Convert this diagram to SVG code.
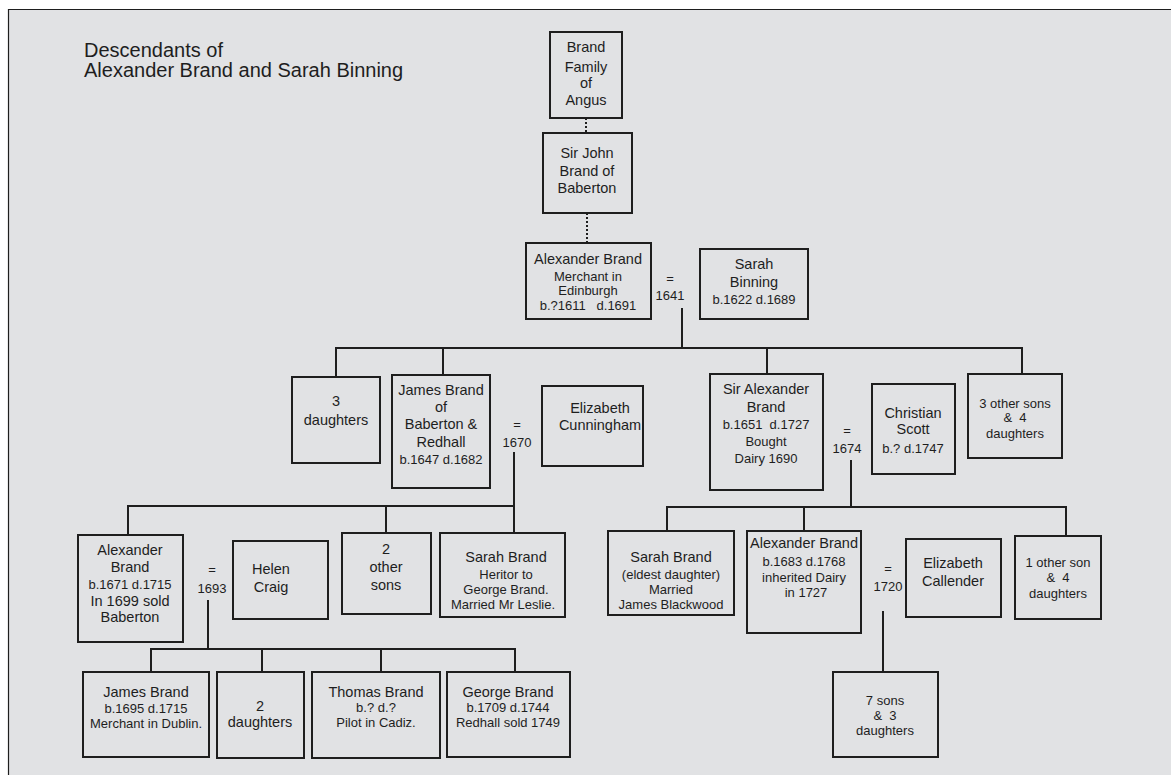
<svg xmlns="http://www.w3.org/2000/svg" width="1171" height="775" viewBox="0 0 1171 775">
<style>
.box{fill:none;stroke:#1e1e1e;stroke-width:2}
.ln{fill:none;stroke:#1e1e1e;stroke-width:2}
.dot{fill:none;stroke:#1e1e1e;stroke-width:2;stroke-dasharray:2 2}
text{font-family:"Liberation Sans",Arial,sans-serif;fill:#1e1e1e;text-anchor:middle}
.a{font-size:14.5px}
.b{font-size:13px}
.t{font-size:20px;text-anchor:start}
</style>
<rect x="0" y="0" width="1171" height="775" fill="#ffffff"/>
<rect x="8" y="9" width="1163" height="766" fill="#e1e2e4"/>
<path d="M8.5 775 V9.5 H1171" fill="none" stroke="#1e1e1e" stroke-width="1.2"/>
<g id="title">
<text class="t" x="84" y="57">Descendants of</text>
<text class="t" x="84" y="77">Alexander Brand and Sarah Binning</text>
</g>
<g id="connectors">
<path class="dot" d="M586 118 V133"/>
<path class="dot" d="M587 213 V243"/>
<path class="ln" d="M682 308 V348"/>
<path class="ln" d="M336 377 V348 H1022 V374"/>
<path class="ln" d="M443 348 V375"/>
<path class="ln" d="M767 348 V374"/>
<path class="ln" d="M514 452 V533"/>
<path class="ln" d="M128 535 V506 H514"/>
<path class="ln" d="M386 506 V533"/>
<path class="ln" d="M851 460 V507"/>
<path class="ln" d="M667 531 V507 H1066 V536"/>
<path class="ln" d="M804 507 V531"/>
<path class="ln" d="M883 611 V672"/>
<path class="ln" d="M208 600 V649"/>
<path class="ln" d="M151 672 V649 H515 V672"/>
<path class="ln" d="M262 649 V672"/>
<path class="ln" d="M381 649 V672"/>
</g>
<g id="brand-family-angus">
<rect class="box" x="550" y="32" width="72" height="86"/>
<text class="a" x="586" y="52">Brand</text>
<text class="a" x="586" y="72">Family</text>
<text class="a" x="586" y="88">of</text>
<text class="a" x="586" y="105">Angus</text>
</g>
<g id="sir-john-brand">
<rect class="box" x="543" y="133" width="89" height="80"/>
<text class="a" x="587" y="158">Sir John</text>
<text class="a" x="587" y="176">Brand of</text>
<text class="a" x="587" y="193">Baberton</text>
</g>
<g id="alexander-brand-1611">
<rect class="box" x="526" y="243" width="125" height="76"/>
<text class="a" x="588" y="264">Alexander Brand</text>
<text class="b" x="588" y="281">Merchant in</text>
<text class="b" x="588" y="295">Edinburgh</text>
<text class="b" x="588" y="310" xml:space="preserve">b.?1611   d.1691</text>
</g>
<g id="marriage-1641">
<text class="b" x="670" y="283">=</text>
<text class="b" x="670" y="300">1641</text>
</g>
<g id="sarah-binning">
<rect class="box" x="700" y="249" width="108" height="70"/>
<text class="a" x="754" y="269">Sarah</text>
<text class="a" x="754" y="287">Binning</text>
<text class="b" x="754" y="304">b.1622 d.1689</text>
</g>
<g id="three-daughters">
<rect class="box" x="292" y="377" width="88" height="86"/>
<text class="a" x="336" y="406">3</text>
<text class="a" x="336" y="425">daughters</text>
</g>
<g id="james-brand-1647">
<rect class="box" x="392" y="375" width="98" height="113"/>
<text class="a" x="441" y="395">James Brand</text>
<text class="a" x="441" y="412">of</text>
<text class="a" x="441" y="429">Baberton &amp;</text>
<text class="a" x="441" y="447">Redhall</text>
<text class="b" x="441" y="464">b.1647 d.1682</text>
</g>
<g id="marriage-1670">
<text class="b" x="517" y="429">=</text>
<text class="b" x="517" y="447">1670</text>
</g>
<g id="elizabeth-cunningham">
<rect class="box" x="542" y="386" width="101" height="80"/>
<text class="a" x="600" y="413">Elizabeth</text>
<text class="a" x="600" y="430">Cunningham</text>
</g>
<g id="sir-alexander-brand">
<rect class="box" x="710" y="374" width="113" height="116"/>
<text class="a" x="766" y="394">Sir Alexander</text>
<text class="a" x="766" y="412">Brand</text>
<text class="b" x="766" y="429" xml:space="preserve">b.1651  d.1727</text>
<text class="b" x="766" y="446">Bought</text>
<text class="b" x="766" y="463">Dairy 1690</text>
</g>
<g id="marriage-1674">
<text class="b" x="847" y="435">=</text>
<text class="b" x="847" y="453">1674</text>
</g>
<g id="christian-scott">
<rect class="box" x="872" y="384" width="83" height="90"/>
<text class="a" x="913" y="418">Christian</text>
<text class="a" x="913" y="434">Scott</text>
<text class="b" x="913" y="453">b.? d.1747</text>
</g>
<g id="three-other-sons">
<rect class="box" x="968" y="374" width="94" height="84"/>
<text class="b" x="1015" y="408">3 other sons</text>
<text class="b" x="1015" y="422" xml:space="preserve">&amp;  4</text>
<text class="b" x="1015" y="438">daughters</text>
</g>
<g id="alexander-brand-1671">
<rect class="box" x="78" y="535" width="105" height="107"/>
<text class="a" x="130" y="555">Alexander</text>
<text class="a" x="130" y="572">Brand</text>
<text class="b" x="130" y="589">b.1671 d.1715</text>
<text class="a" x="130" y="606">In 1699 sold</text>
<text class="a" x="130" y="622">Baberton</text>
</g>
<g id="marriage-1693">
<text class="b" x="212" y="574">=</text>
<text class="b" x="212" y="593">1693</text>
</g>
<g id="helen-craig">
<rect class="box" x="233" y="541" width="95" height="78"/>
<text class="a" x="271" y="574">Helen</text>
<text class="a" x="271" y="592">Craig</text>
</g>
<g id="two-other-sons">
<rect class="box" x="342" y="533" width="89" height="81"/>
<text class="a" x="386" y="554">2</text>
<text class="a" x="386" y="572">other</text>
<text class="a" x="386" y="590">sons</text>
</g>
<g id="sarah-brand-heritor">
<rect class="box" x="440" y="533" width="125" height="84"/>
<text class="a" x="506" y="562">Sarah Brand</text>
<text class="b" x="506" y="579">Heritor to</text>
<text class="b" x="506" y="594">George Brand.</text>
<text class="b" x="503" y="609">Married Mr Leslie.</text>
</g>
<g id="sarah-brand-eldest">
<rect class="box" x="608" y="531" width="126" height="84"/>
<text class="a" x="671" y="562">Sarah Brand</text>
<text class="b" x="671" y="579">(eldest daughter)</text>
<text class="b" x="671" y="594">Married</text>
<text class="b" x="671" y="609">James Blackwood</text>
</g>
<g id="alexander-brand-1683">
<rect class="box" x="747" y="531" width="114" height="102"/>
<text class="a" x="804" y="548">Alexander Brand</text>
<text class="b" x="804" y="566">b.1683 d.1768</text>
<text class="b" x="804" y="582">inherited Dairy</text>
<text class="b" x="806" y="597">in 1727</text>
</g>
<g id="marriage-1720">
<text class="b" x="888" y="573">=</text>
<text class="b" x="888" y="591">1720</text>
</g>
<g id="elizabeth-callender">
<rect class="box" x="906" y="539" width="95" height="78"/>
<text class="a" x="953" y="568">Elizabeth</text>
<text class="a" x="953" y="586">Callender</text>
</g>
<g id="one-other-son">
<rect class="box" x="1015" y="536" width="86" height="83"/>
<text class="b" x="1058" y="567">1 other son</text>
<text class="b" x="1058" y="582" xml:space="preserve">&amp;  4</text>
<text class="b" x="1058" y="598">daughters</text>
</g>
<g id="seven-sons">
<rect class="box" x="833" y="672" width="105" height="85"/>
<text class="b" x="885" y="705">7 sons</text>
<text class="b" x="885" y="720" xml:space="preserve">&amp;  3</text>
<text class="b" x="885" y="735">daughters</text>
</g>
<g id="james-brand-1695">
<rect class="box" x="83" y="672" width="126" height="85"/>
<text class="a" x="146" y="697">James Brand</text>
<text class="b" x="146" y="713">b.1695 d.1715</text>
<text class="b" x="146" y="728">Merchant in Dublin.</text>
</g>
<g id="two-daughters">
<rect class="box" x="217" y="672" width="87" height="86"/>
<text class="a" x="260" y="711">2</text>
<text class="a" x="260" y="727">daughters</text>
</g>
<g id="thomas-brand">
<rect class="box" x="312" y="672" width="128" height="86"/>
<text class="a" x="376" y="697">Thomas Brand</text>
<text class="b" x="376" y="712">b.? d.?</text>
<text class="b" x="376" y="727">Pilot in Cadiz.</text>
</g>
<g id="george-brand">
<rect class="box" x="447" y="672" width="123" height="85"/>
<text class="a" x="508" y="697">George Brand</text>
<text class="b" x="508" y="712">b.1709 d.1744</text>
<text class="b" x="508" y="727">Redhall sold 1749</text>
</g>
</svg>
